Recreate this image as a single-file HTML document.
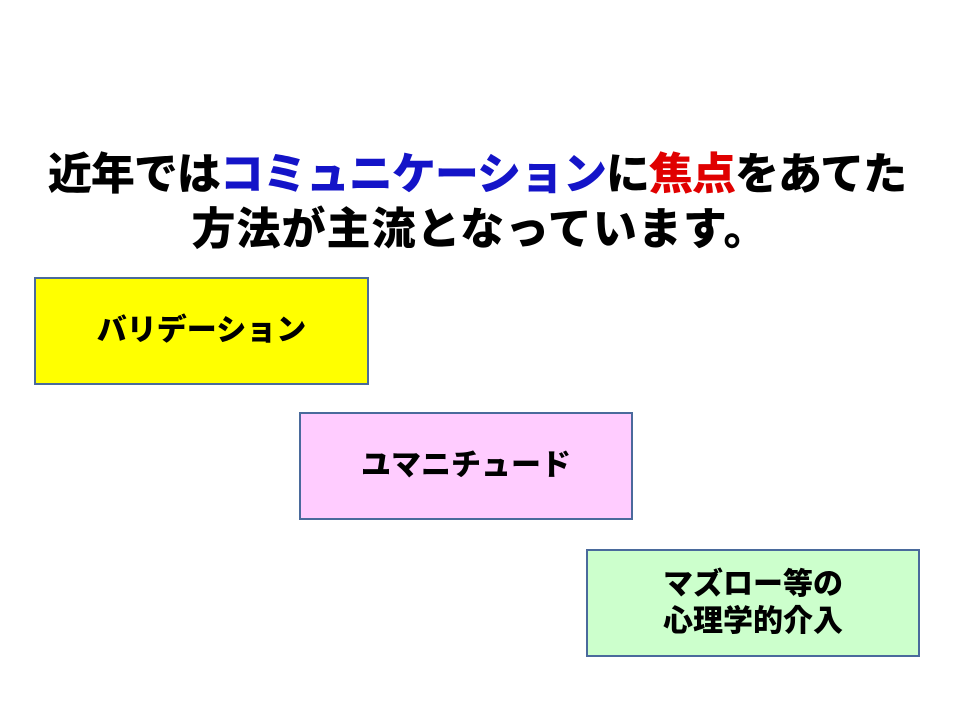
<!DOCTYPE html>
<html><head><meta charset="utf-8"><style>
html,body{margin:0;padding:0;background:#fff;}
body{width:960px;height:720px;position:relative;overflow:hidden;font-family:"Liberation Sans","Noto Sans CJK JP",sans-serif;}
.t{position:absolute;left:0;width:960px;text-align:center;font-size:44px;font-weight:900;line-height:1;white-space:nowrap;color:#000;letter-spacing:-1px;}
.b{color:#1414c8}.r{color:#e00000}
.box{position:absolute;box-sizing:border-box;border:2px solid #4a6a9c;display:flex;align-items:center;justify-content:center;text-align:center;font-size:30px;font-weight:900;line-height:1.25;color:#000;}
</style></head><body>
<div class="t" style="top:153px;left:-3px">近年では<span class="b">コミュニケーション</span>に<span class="r">焦点</span>をあてた</div>
<div class="t" style="top:208px;left:0px;letter-spacing:1px">方法が主流となっています。</div>
<div class="box" style="left:34px;top:277px;width:335px;height:108px;background:#ffff00">バリデーション</div>
<div class="box" style="left:299px;top:412px;width:334px;height:108px;background:#ffccff">ユマニチュード</div>
<div class="box" style="left:586px;top:549px;width:334px;height:108px;background:#ccffcc">マズロー等の<br>心理学的介入</div>
</body></html>
